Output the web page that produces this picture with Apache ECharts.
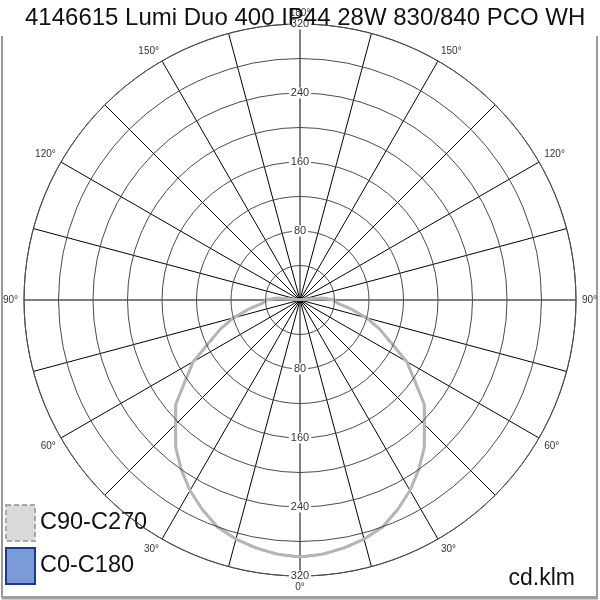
<!DOCTYPE html>
<html>
<head>
<meta charset="utf-8">
<script src="https://cdn.jsdelivr.net/npm/echarts@6/dist/echarts.min.js"></script>
<style>
  html, body { margin: 0; padding: 0; background: #fff; }
  #chart { width: 600px; height: 600px; }
</style>
</head>
<body>
<div id="chart"></div>
<script>
// gamma angles (degrees from nadir), one half of each C-plane
const gammas = [0, 5, 10, 15, 20, 25, 30, 35, 40, 45, 50, 55, 60, 65, 70, 75, 80, 85, 90,
  95, 100, 105, 110, 115, 120, 125, 130, 135, 140, 145, 150, 155, 160, 165, 170, 175, 180];

// intensities in cd/klm
const c90c270 = [298, 296, 292, 287, 280, 268, 255, 240, 224, 204, 188, 162, 143, 116, 98, 80, 60, 44, 40,
  26, 4, 2, 1, 1, 1, 1, 1, 1, 1, 1, 1, 1, 1, 1, 1, 1, 1];
const c0c180 = [298, 296, 292, 287, 280, 268, 255, 240, 224, 204, 188, 162, 143, 116, 98, 80, 60, 44, 38,
  28, 5, 2, 1, 1, 1, 1, 1, 1, 1, 1, 1, 1, 1, 1, 1, 1, 1];

const seriesNames = ['C90-C270', 'C0-C180'];
const radiusTicks = [80, 160, 240, 320];

// both halves of the plane: 0..180 on one side, back round on the other
function planePoints(values) {
  const pts = [];
  gammas.forEach((g, i) => pts.push([values[i], g]));
  for (let i = gammas.length - 2; i >= 0; i--) {
    pts.push([values[i], 360 - gammas[i]]);
  }
  return pts;
}

const chart = echarts.init(document.getElementById('chart'));

const font = 'Liberation Sans, Arial, sans-serif';

// radius labels sit on the vertical spoke, white box cuts the line
const radiusLabel = {
  margin: 0,
  rotate: 0,
  align: 'center',
  verticalAlign: 'middle',
  backgroundColor: '#fff',
  padding: [0, 2],
  fontSize: 11,
  color: '#333',
  fontFamily: font,
  formatter: v => (radiusTicks.indexOf(v) >= 0 ? String(v) : '')
};

option = {
  animation: false,
  backgroundColor: '#fff',
  title: [
    {
      text: '4146615 Lumi Duo 400 IP44 28W 830/840 PCO WH',
      left: 20,
      top: 1,
      textStyle: { fontSize: 24, fontWeight: 'normal', color: '#111', fontFamily: font }
    },
    {
      text: 'cd.klm',
      right: 20,
      top: 562,
      textStyle: { fontSize: 23, fontWeight: 'normal', color: '#111', fontFamily: font }
    }
  ],
  legend: {
    orient: 'vertical',
    left: 0,
    top: 499,
    itemWidth: 29,
    itemHeight: 36,
    itemGap: 5,
    textStyle: { fontSize: 23.5, color: '#111', fontFamily: font },
    data: [
      {
        name: 'C90-C270',
        icon: 'rect',
        itemStyle: { color: '#d9d9d9', borderColor: '#a8a8a8', borderWidth: 2, borderType: [5, 3] },
        lineStyle: { width: 0, opacity: 0 }
      },
      {
        name: 'C0-C180',
        icon: 'rect',
        itemStyle: { color: '#7a9ad8', borderColor: '#1b3a8e', borderWidth: 2 },
        lineStyle: { width: 0, opacity: 0 }
      }
    ]
  },
  polar: [
    { center: [300, 300], radius: 276 },
    { center: [300, 300], radius: 276 }
  ],
  angleAxis: [
    {
      polarIndex: 0,
      type: 'value',
      min: 0,
      max: 360,
      interval: 15,
      startAngle: 270,
      clockwise: true,
      axisLine: { show: true, lineStyle: { color: '#4a4a4a', width: 1 } },
      axisTick: { show: false },
      splitLine: { show: true, lineStyle: { color: '#000', width: 1 } },
      axisLabel: {
        margin: 6,
        fontSize: 10,
        color: '#333',
        fontFamily: font,
        formatter: function (v) {
          if (v % 30 !== 0 || v === 360) return '';
          return (v > 180 ? 360 - v : v) + '°';
        }
      }
    },
    {
      polarIndex: 1,
      type: 'value',
      min: 0,
      max: 360,
      startAngle: 90,
      axisLine: { show: false },
      axisTick: { show: false },
      axisLabel: { show: false },
      splitLine: { show: false }
    }
  ],
  radiusAxis: [
    {
      polarIndex: 0,
      type: 'value',
      min: 0,
      max: 320,
      interval: 40,
      axisLine: { show: false },
      axisTick: { show: false },
      splitLine: { show: true, lineStyle: { color: '#4a4a4a', width: 1 } },
      axisLabel: radiusLabel,
      z: 5
    },
    {
      polarIndex: 1,
      type: 'value',
      min: 0,
      max: 320,
      interval: 40,
      axisLine: { show: false },
      axisTick: { show: false },
      splitLine: { show: false },
      axisLabel: radiusLabel,
      z: 5
    }
  ],
  series: [
    {
      name: seriesNames[1],
      type: 'line',
      coordinateSystem: 'polar',
      polarIndex: 0,
      data: planePoints(c0c180),
      symbol: 'none',
      lineStyle: { color: '#3a5bb0', width: 2 },
      itemStyle: { color: '#7a9ad8' },
      z: 2
    },
    {
      name: seriesNames[0],
      type: 'line',
      coordinateSystem: 'polar',
      polarIndex: 0,
      data: planePoints(c90c270),
      symbol: 'none',
      lineStyle: { color: '#b5b5b5', width: 3 },
      itemStyle: { color: '#d9d9d9' },
      z: 3
    }
  ],
  graphic: [
    {
      type: 'polyline',
      shape: { points: [[2, 36], [2, 597], [597, 597], [597, 36]] },
      style: { stroke: '#9a9a9a', lineWidth: 2, fill: null },
      silent: true
    },
    {
      type: 'line',
      shape: { x1: 2, y1: 598, x2: 598, y2: 598 },
      style: { stroke: '#a0a0a0', lineWidth: 3 },
      silent: true
    }
  ]
};

chart.setOption(option);
</script>
</body>
</html>
